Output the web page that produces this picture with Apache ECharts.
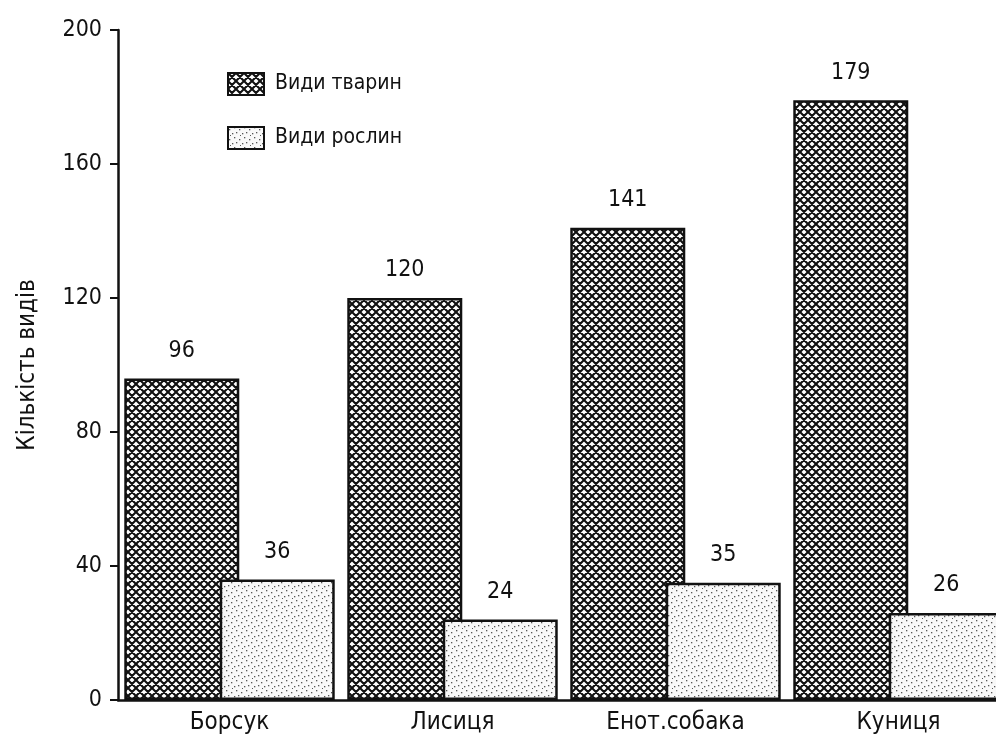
<!DOCTYPE html>
<html lang="uk">
<head>
<meta charset="UTF-8">
<title>Кількість видів</title>
<script src="https://cdn.jsdelivr.net/npm/echarts@6/dist/echarts.min.js"></script>
<style>
  html, body { margin: 0; padding: 0; background: #fff; }
  #chart { width: 996px; height: 748px; }
</style>
</head>
<body>
<div id="chart"></div>
<script>
// дані
var categories = ["Борсук", "Лисиця", "Енот.собака", "Куниця"];
var animals = [96, 120, 141, 179];
var plants = [36, 24, 35, 26];
var yTicks = [0, 40, 80, 120, 160, 200];

var FONT = "'Liberation Sans Narrow', 'DejaVu Sans Condensed', 'Liberation Sans', sans-serif";

// штрихування для тварин
function hatch() {
  var c = document.createElement("canvas");
  c.width = 8; c.height = 8;
  var g = c.getContext("2d");
  g.fillStyle = "#fff";
  g.fillRect(0, 0, 8, 8);
  g.strokeStyle = "#111";
  g.lineWidth = 2.1;
  g.beginPath();
  g.moveTo(-1, -1); g.lineTo(9, 9);
  g.moveTo(9, -1); g.lineTo(-1, 9);
  g.moveTo(-1, 7); g.lineTo(1, 9);
  g.moveTo(7, -1); g.lineTo(9, 1);
  g.moveTo(-1, 1); g.lineTo(1, -1);
  g.moveTo(7, 9); g.lineTo(9, 7);
  g.stroke();
  return c;
}

// крапки для рослин
function dots() {
  var c = document.createElement("canvas");
  c.width = 10; c.height = 10;
  var g = c.getContext("2d");
  g.fillStyle = "#f8f8f8";
  g.fillRect(0, 0, 10, 10);
  g.fillStyle = "#555";
  g.fillRect(1, 2, 1.3, 1.3);
  g.fillRect(6, 0, 1.3, 1.3);
  g.fillRect(4, 6, 1.3, 1.3);
  g.fillRect(8, 5, 1.3, 1.3);
  g.fillRect(2, 8, 1, 1);
  return c;
}

var chart = echarts.init(document.getElementById("chart"), null, { renderer: "canvas" });

var labelStyle = {
  show: true,
  position: "top",
  distance: 16,
  color: "#111",
  fontSize: 23,
  fontFamily: FONT
};

var option = {
  backgroundColor: "#fff",
  animation: false,
  textStyle: { fontFamily: FONT },
  legend: {
    orient: "vertical",
    left: 222,
    top: 67,
    icon: "rect",
    itemWidth: 36,
    itemHeight: 22,
    itemGap: 30,
    textStyle: { fontSize: 21, color: "#111", fontFamily: FONT, padding: [0, 0, 0, 6] },
    data: ["Види тварин", "Види рослин"]
  },
  grid: { left: 118, top: 30, right: -14, bottom: 48, containLabel: false, outerBoundsMode: "none" },
  xAxis: {
    type: "category",
    data: categories,
    axisLine: { lineStyle: { color: "#111", width: 2.5 } },
    axisTick: { show: false },
    axisLabel: { color: "#111", fontSize: 24, fontFamily: FONT, margin: 11 }
  },
  yAxis: {
    type: "value",
    min: yTicks[0],
    max: yTicks[yTicks.length - 1],
    interval: 40,
    name: "Кількість видів",
    nameLocation: "middle",
    nameRotate: 90,
    nameGap: 78,
    nameTextStyle: { fontSize: 24, color: "#111", fontFamily: FONT },
    axisLine: { show: true, lineStyle: { color: "#111", width: 2.5 } },
    axisTick: { show: true, length: 8, lineStyle: { color: "#111", width: 2 } },
    axisLabel: { color: "#111", fontSize: 23, fontFamily: FONT, margin: 16 },
    splitLine: { show: false }
  },
  series: [
    {
      name: "Види тварин",
      type: "bar",
      data: animals,
      barWidth: 115,
      barGap: "-17%",
      itemStyle: { color: { image: hatch(), repeat: "repeat" }, borderColor: "#111", borderWidth: 2.5 },
      label: labelStyle
    },
    {
      name: "Види рослин",
      type: "bar",
      data: plants,
      barWidth: 115,
      itemStyle: { color: { image: dots(), repeat: "repeat" }, borderColor: "#111", borderWidth: 2.5 },
      label: labelStyle
    }
  ]
};

chart.setOption(option);
</script>
</body>
</html>
